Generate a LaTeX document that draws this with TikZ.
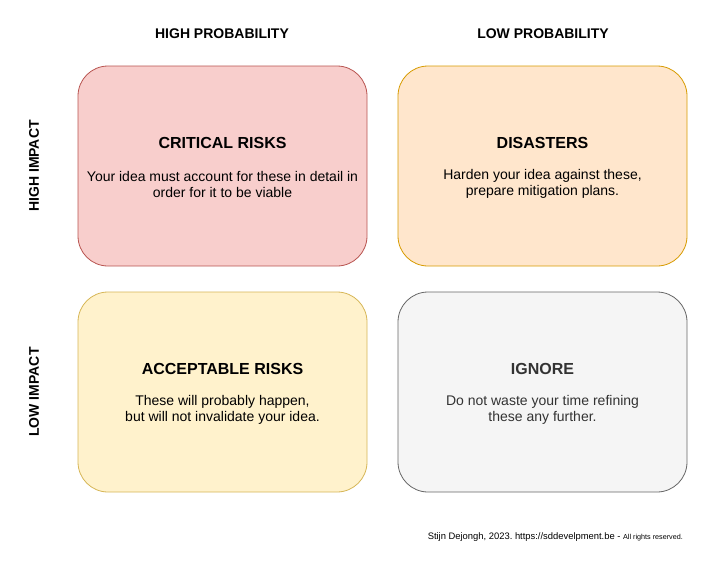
\documentclass[tikz,border=0pt]{standalone}
\usepackage{fontspec}
\setmainfont{Liberation Sans}
\usetikzlibrary{positioning}
\definecolor{redfill}{HTML}{F8CECC}
\definecolor{redline}{HTML}{B85450}
\definecolor{orangefill}{HTML}{FFE6CC}
\definecolor{orangeline}{HTML}{D79B00}
\definecolor{yellowfill}{HTML}{FFF2CC}
\definecolor{yellowline}{HTML}{D6B656}
\definecolor{greyfill}{HTML}{F5F5F5}
\definecolor{greyline}{HTML}{666666}
\definecolor{greytext}{HTML}{333333}
\begin{document}
\frenchspacing
\begin{tikzpicture}[x=1pt,y=-1pt,
		quadrant/.style={draw,line width=0.8pt,rounded corners=30pt,minimum width=289pt,minimum height=200pt,inner sep=0pt},
		title/.style={font=\fontsize{16}{19}\selectfont\bfseries},
		body/.style={font=\fontsize{14}{16}\selectfont,align=center},
		axis/.style={font=\fontsize{14}{16}\selectfont\bfseries}]
		\useasboundingbox (0,0) rectangle (703,570);
		% column and row headings
		\node[axis] (hp) at (222,34) {HIGH PROBABILITY};
		\node[axis] (lp) at (543,34) {LOW PROBABILITY};
		\node[axis,rotate=90] (hi) at (34,166) {HIGH IMPACT};
		\node[axis,rotate=90] (li) at (34,392) {LOW IMPACT};
		% the four quadrants
		\node[quadrant,fill=redfill,draw=redline] (C) at (222.5,166) {};
		\node[quadrant,fill=orangefill,draw=orangeline] (D) at (542.5,166) {};
		\node[quadrant,fill=yellowfill,draw=yellowline] (A) at (222.5,392) {};
		\node[quadrant,fill=greyfill,draw=greyline] (I) at (542.5,392) {};
		\node[title] (Ct) at ([yshift=23pt]C.center) {CRITICAL RISKS};
		\node[body] (Cb) at ([yshift=-18pt]C.center) {Your idea must account for these in detail in\\order for it to be viable};
		\node[title] (Dt) at ([yshift=23pt]D.center) {DISASTERS};
		\node[body] (Db) at ([yshift=-18pt]D.center) {Harden your idea against these,\\prepare mitigation plans.};
		\node[title] (At) at ([yshift=23pt]A.center) {ACCEPTABLE RISKS};
		\node[body] (Ab) at ([yshift=-18pt]A.center) {These will probably happen,\\but will not invalidate your idea.};
		\node[title,text=greytext] (It) at ([yshift=23pt]I.center) {IGNORE};
		\node[body,text=greytext] (Ib) at ([yshift=-18pt]I.center) {Do not waste your time refining\\these any further.};
		% footer
		\node[anchor=east,inner sep=0pt,font=\fontsize{9.4}{11}\selectfont] (F) at (683,537) {Stijn Dejongh, 2023. https://sddevelpment.be - {\fontsize{7.2}{9}\selectfont All rights reserved.}};
	\end{tikzpicture}
\end{document}
